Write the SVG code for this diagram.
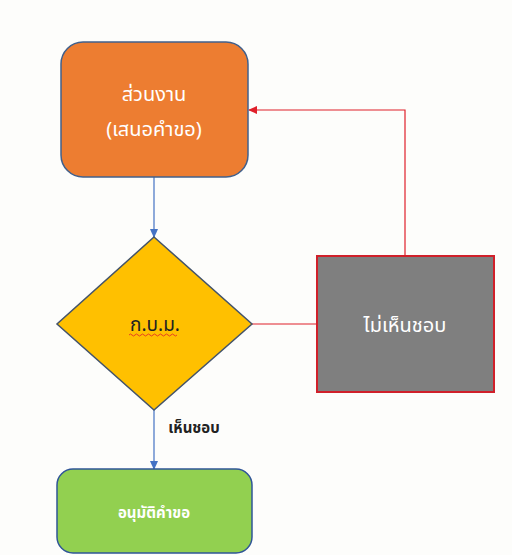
<svg xmlns="http://www.w3.org/2000/svg" width="512" height="555" viewBox="0 0 512 555">
<style>
text{font-family:"Noto Sans","Noto Sans Thai","Tahoma","DejaVu Sans",sans-serif;text-anchor:middle;dominant-baseline:central}
.w{fill:#ffffff}
.blue{stroke:#4472c4;stroke-width:1.2;fill:none}
.red{stroke:#e0202a;stroke-width:1.2;fill:none}
</style>
<defs>
<marker id="ab" markerWidth="10" markerHeight="10" refX="8" refY="5" orient="auto" markerUnits="userSpaceOnUse"><path d="M0,1 L9,5 L0,9 Z" fill="#4472c4"/></marker>
<marker id="ar" markerWidth="10" markerHeight="10" refX="8" refY="5" orient="auto" markerUnits="userSpaceOnUse"><path d="M0,1 L9,5 L0,9 Z" fill="#e0202a"/></marker>
</defs>
<rect width="512" height="555" fill="#fdfdfb"/>
<g id="connectors">
<path class="blue" d="M154,177 L154,237" marker-end="url(#ab)"/>
<path class="blue" d="M154,410 L154,469" marker-end="url(#ab)"/>
<path class="red" d="M252,324 L317,324"/>
<path class="red" d="M405,256 L405,110 L249,110" marker-end="url(#ar)"/>
<text x="194" y="427" font-size="15" font-weight="bold" fill="#222">เห็นชอบ</text>
</g>
<g id="node-request">
<rect x="61" y="42" width="187" height="135" rx="22" fill="#ed7d31" stroke="#41608c" stroke-width="1.5"/>
<text class="w" x="154" y="93" font-size="20">ส่วนงาน</text>
<text class="w" x="154" y="128" font-size="20">(เสนอคำขอ)</text>
</g>
<g id="node-decision">
<polygon points="154,237 252,324 154,410 57,324" fill="#ffc000" stroke="#44546a" stroke-width="1.5"/>
<text x="155" y="324" font-size="19" fill="#222">ก.บ.ม.</text>
<path d="M129,335 q1.5,-2 3,0 t3,0 t3,0 t3,0 t3,0 t3,0 t3,0 t3,0 t3,0 t3,0 t3,0 t3,0 t3,0 t3,0 t3,0 t3,0" fill="none" stroke="#e0202a" stroke-width="0.8"/>
</g>
<g id="node-reject">
<rect x="317" y="256" width="177" height="136" fill="#7f7f7f" stroke="#d0202a" stroke-width="2"/>
<text class="w" x="405" y="324" font-size="20">ไม่เห็นชอบ</text>
</g>
<g id="node-approve">
<rect x="57" y="469" width="195" height="84" rx="16" fill="#92d050" stroke="#2f5597" stroke-width="1.5"/>
<text class="w" x="154" y="512" font-size="15" font-weight="bold">อนุมัติคำขอ</text>
</g>
</svg>
